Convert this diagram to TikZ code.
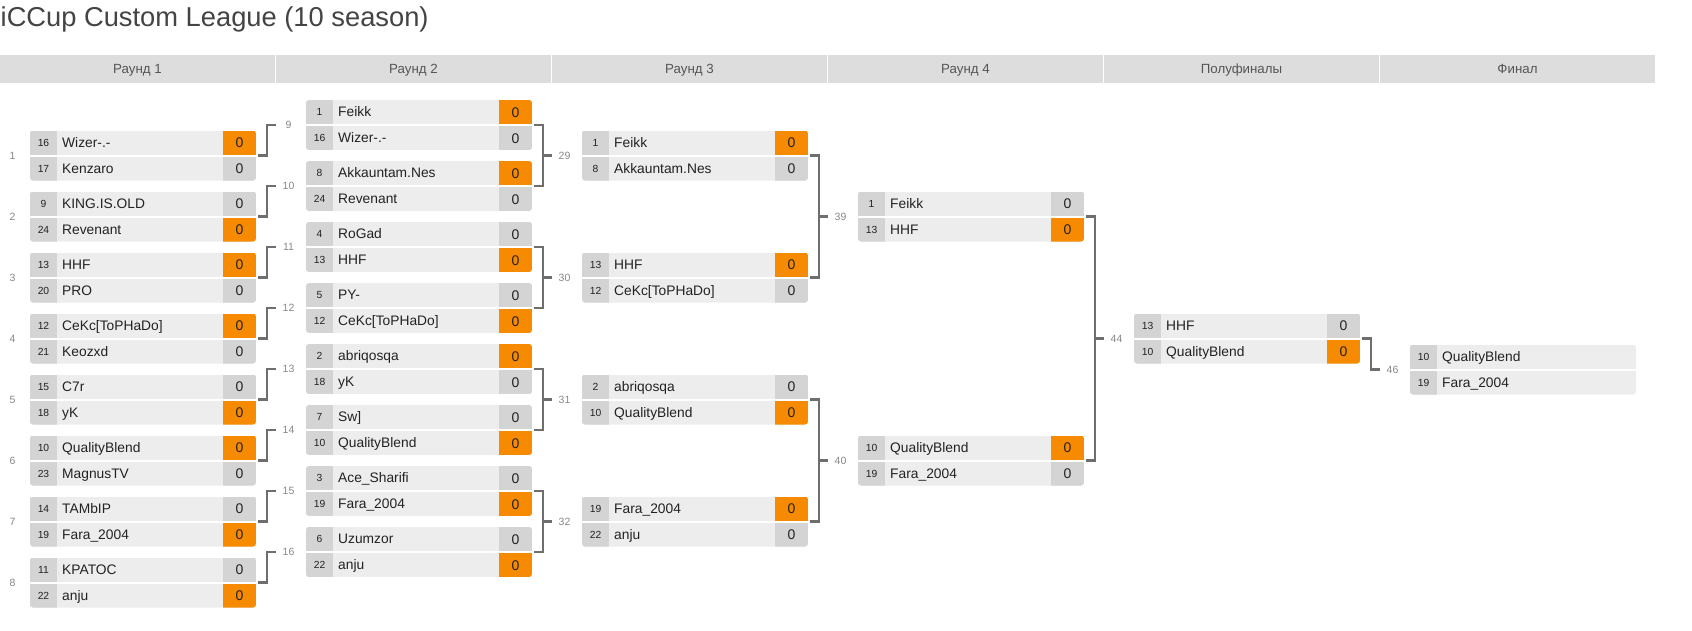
\documentclass[tikz,border=0pt]{standalone}
\usepackage{fontspec}
\setmainfont{Liberation Sans}
\definecolor{hdrbg}{HTML}{DDDDDD}
\definecolor{hdrtx}{HTML}{555555}
\definecolor{namebg}{HTML}{EDEDED}
\definecolor{cellg}{HTML}{D4D4D4}
\definecolor{cello}{HTML}{F68A00}
\definecolor{conncol}{HTML}{6E6E6E}
\definecolor{txtc}{HTML}{222222}
\definecolor{lblc}{HTML}{888888}
\definecolor{titlec}{HTML}{444444}
\newcommand\setmatch[4]{%
  \def\MNm{#1}\pgfmathsetmacro\MXs{#2}\pgfmathsetmacro\MYc{#3}%
  \node[mframe] (#1) at (\MXs+128,\MYc) {};
  \node[mlabel] (#1-lab) at (\MXs+12.5,\MYc) {#4};
}
\newcommand\rows[6]{%
  \begin{scope}
    \clip[rounded corners=3pt] (\MXs+30,\MYc-25) rectangle (\MXs+256,\MYc+25);
    \fill[namebg] (\MXs+30,\MYc-25) rectangle (\MXs+256,\MYc+25);
    \fill[cellg] (\MXs+30,\MYc-25) rectangle (\MXs+57,\MYc+25);
    \fill[#3] (\MXs+223,\MYc-25) rectangle (\MXs+256,\MYc-1);
    \fill[#6] (\MXs+223,\MYc+1) rectangle (\MXs+256,\MYc+25);
    \fill[white] (\MXs+30,\MYc-1) rectangle (\MXs+256,\MYc+1);
  \end{scope}
  \node[seedtxt] (\MNm-s1) at (\MXs+43.5,\MYc-13+3.7) {#1};
  \node[nametxt] (\MNm-n1) at (\MXs+62,\MYc-13+4.9) {#2};
  \node[scoretxt] (\MNm-c1) at (\MXs+239.5,\MYc-13+5) {0};
  \node[seedtxt] (\MNm-s2) at (\MXs+43.5,\MYc+13+3.7) {#4};
  \node[nametxt] (\MNm-n2) at (\MXs+62,\MYc+13+4.9) {#5};
  \node[scoretxt] (\MNm-c2) at (\MXs+239.5,\MYc+13+5) {0};
}
\newcommand\finalrows[4]{%
  \begin{scope}
    \clip[rounded corners=3pt] (\MXs+30,\MYc-25) rectangle (\MXs+256,\MYc+25);
    \fill[namebg] (\MXs+30,\MYc-25) rectangle (\MXs+256,\MYc+25);
    \fill[cellg] (\MXs+30,\MYc-25) rectangle (\MXs+57,\MYc+25);
    \fill[white] (\MXs+30,\MYc-1) rectangle (\MXs+256,\MYc+1);
  \end{scope}
  \node[seedtxt] (\MNm-s1) at (\MXs+43.5,\MYc-13+3.7) {#1};
  \node[nametxt] (\MNm-n1) at (\MXs+62,\MYc-13+4.9) {#2};
  \node[seedtxt] (\MNm-s2) at (\MXs+43.5,\MYc+13+3.7) {#3};
  \node[nametxt] (\MNm-n2) at (\MXs+62,\MYc+13+4.9) {#4};
}
\begin{document}
\begin{tikzpicture}[x=1pt,y=-1pt,
  mframe/.style={inner sep=0pt,minimum width=256pt,minimum height=50pt,draw=none},
  mlabel/.style={inner sep=0pt,font=\fontsize{10.5}{12}\selectfont,text=lblc},
  seedtxt/.style={anchor=base,inner sep=0pt,font=\fontsize{10.3}{12}\selectfont,text=txtc},
  nametxt/.style={anchor=base west,inner sep=0pt,font=\fontsize{13.8}{15}\selectfont,text=txtc},
  scoretxt/.style={anchor=base,inner sep=0pt,font=\fontsize{14}{15}\selectfont,text=txtc},
  hdrtxt/.style={anchor=base,inner sep=0pt,font=\fontsize{13.3}{15}\selectfont,text=hdrtx},
  conn/.style={draw=conncol,line width=2.2pt}]
\useasboundingbox (0,0) rectangle (1692,630);
\fill[white] (0,0) rectangle (1692,630);
% title
\node[anchor=base west,inner sep=0pt,font=\fontsize{27.3}{30}\selectfont,text=titlec] (title) at (0.5,26) {iCCup Custom League (10 season)};
% header
\foreach \i/\t in {0/{Раунд 1},1/{Раунд 2},2/{Раунд 3},3/{Раунд 4},4/{Полуфиналы},5/{Финал}}{
  \fill[hdrbg] (276*\i,55) rectangle (276*\i+275,83);
  \node[hdrtxt] (hdr\i) at (276*\i+137.5,73.5) {\t};
}
% Round 1
\setmatch{r1m1}{0}{155.5}{1}\rows{16}{Wizer-.-}{cello}{17}{Kenzaro}{cellg}
\setmatch{r1m2}{0}{216.5}{2}\rows{9}{KING.IS.OLD}{cellg}{24}{Revenant}{cello}
\setmatch{r1m3}{0}{277.5}{3}\rows{13}{HHF}{cello}{20}{PRO}{cellg}
\setmatch{r1m4}{0}{338.5}{4}\rows{12}{CeKc[ToPHaDo]}{cello}{21}{Keozxd}{cellg}
\setmatch{r1m5}{0}{399.5}{5}\rows{15}{C7r}{cellg}{18}{yK}{cello}
\setmatch{r1m6}{0}{460.5}{6}\rows{10}{QualityBlend}{cello}{23}{MagnusTV}{cellg}
\setmatch{r1m7}{0}{521.5}{7}\rows{14}{TAMbIP}{cellg}{19}{Fara\_2004}{cello}
\setmatch{r1m8}{0}{582.5}{8}\rows{11}{KPATOC}{cellg}{22}{anju}{cello}
% Round 2
\setmatch{r2m1}{276}{125}{9}\rows{1}{Feikk}{cello}{16}{Wizer-.-}{cellg}
\setmatch{r2m2}{276}{186}{10}\rows{8}{Akkauntam.Nes}{cello}{24}{Revenant}{cellg}
\setmatch{r2m3}{276}{247}{11}\rows{4}{RoGad}{cellg}{13}{HHF}{cello}
\setmatch{r2m4}{276}{308}{12}\rows{5}{PY-}{cellg}{12}{CeKc[ToPHaDo]}{cello}
\setmatch{r2m5}{276}{369}{13}\rows{2}{abriqosqa}{cello}{18}{yK}{cellg}
\setmatch{r2m6}{276}{430}{14}\rows{7}{Sw]}{cellg}{10}{QualityBlend}{cello}
\setmatch{r2m7}{276}{491}{15}\rows{3}{Ace\_Sharifi}{cellg}{19}{Fara\_2004}{cello}
\setmatch{r2m8}{276}{552}{16}\rows{6}{Uzumzor}{cellg}{22}{anju}{cello}
% Round 3
\setmatch{r3m1}{552}{155.5}{29}\rows{1}{Feikk}{cello}{8}{Akkauntam.Nes}{cellg}
\setmatch{r3m2}{552}{277.5}{30}\rows{13}{HHF}{cello}{12}{CeKc[ToPHaDo]}{cellg}
\setmatch{r3m3}{552}{399.5}{31}\rows{2}{abriqosqa}{cellg}{10}{QualityBlend}{cello}
\setmatch{r3m4}{552}{521.5}{32}\rows{19}{Fara\_2004}{cello}{22}{anju}{cellg}
% Round 4
\setmatch{r4m1}{828}{216.5}{39}\rows{1}{Feikk}{cellg}{13}{HHF}{cello}
\setmatch{r4m2}{828}{460.5}{40}\rows{10}{QualityBlend}{cello}{19}{Fara\_2004}{cellg}
% Semifinal
\setmatch{sf}{1104}{338.5}{44}\rows{13}{HHF}{cellg}{10}{QualityBlend}{cello}
% Final
\setmatch{fin}{1380}{369.5}{46}\finalrows{10}{QualityBlend}{19}{Fara\_2004}
% connectors round 1 -> round 2
\foreach \k in {1,...,8}{
  \draw[conn] ([xshift=2pt]r1m\k.east) -- ([xshift=11pt]r1m\k.east) |- (r2m\k.west);
}
% brackets
\foreach \a/\b/\c in {r2m1/r2m2/r3m1,r2m3/r2m4/r3m2,r2m5/r2m6/r3m3,r2m7/r2m8/r3m4,r3m1/r3m2/r4m1,r3m3/r3m4/r4m2,r4m1/r4m2/sf}{
  \draw[conn] ([xshift=2pt]\a.east) -- ([xshift=11pt]\a.east) -- ([xshift=11pt]\b.east) -- ([xshift=2pt]\b.east);
  \draw[conn] (\c.west) -- ++(-10pt,0pt);
}
% semifinal -> final
\draw[conn] ([xshift=2pt]sf.east) -- ([xshift=11pt]sf.east) |- (fin.west);
\end{tikzpicture}
\end{document}
